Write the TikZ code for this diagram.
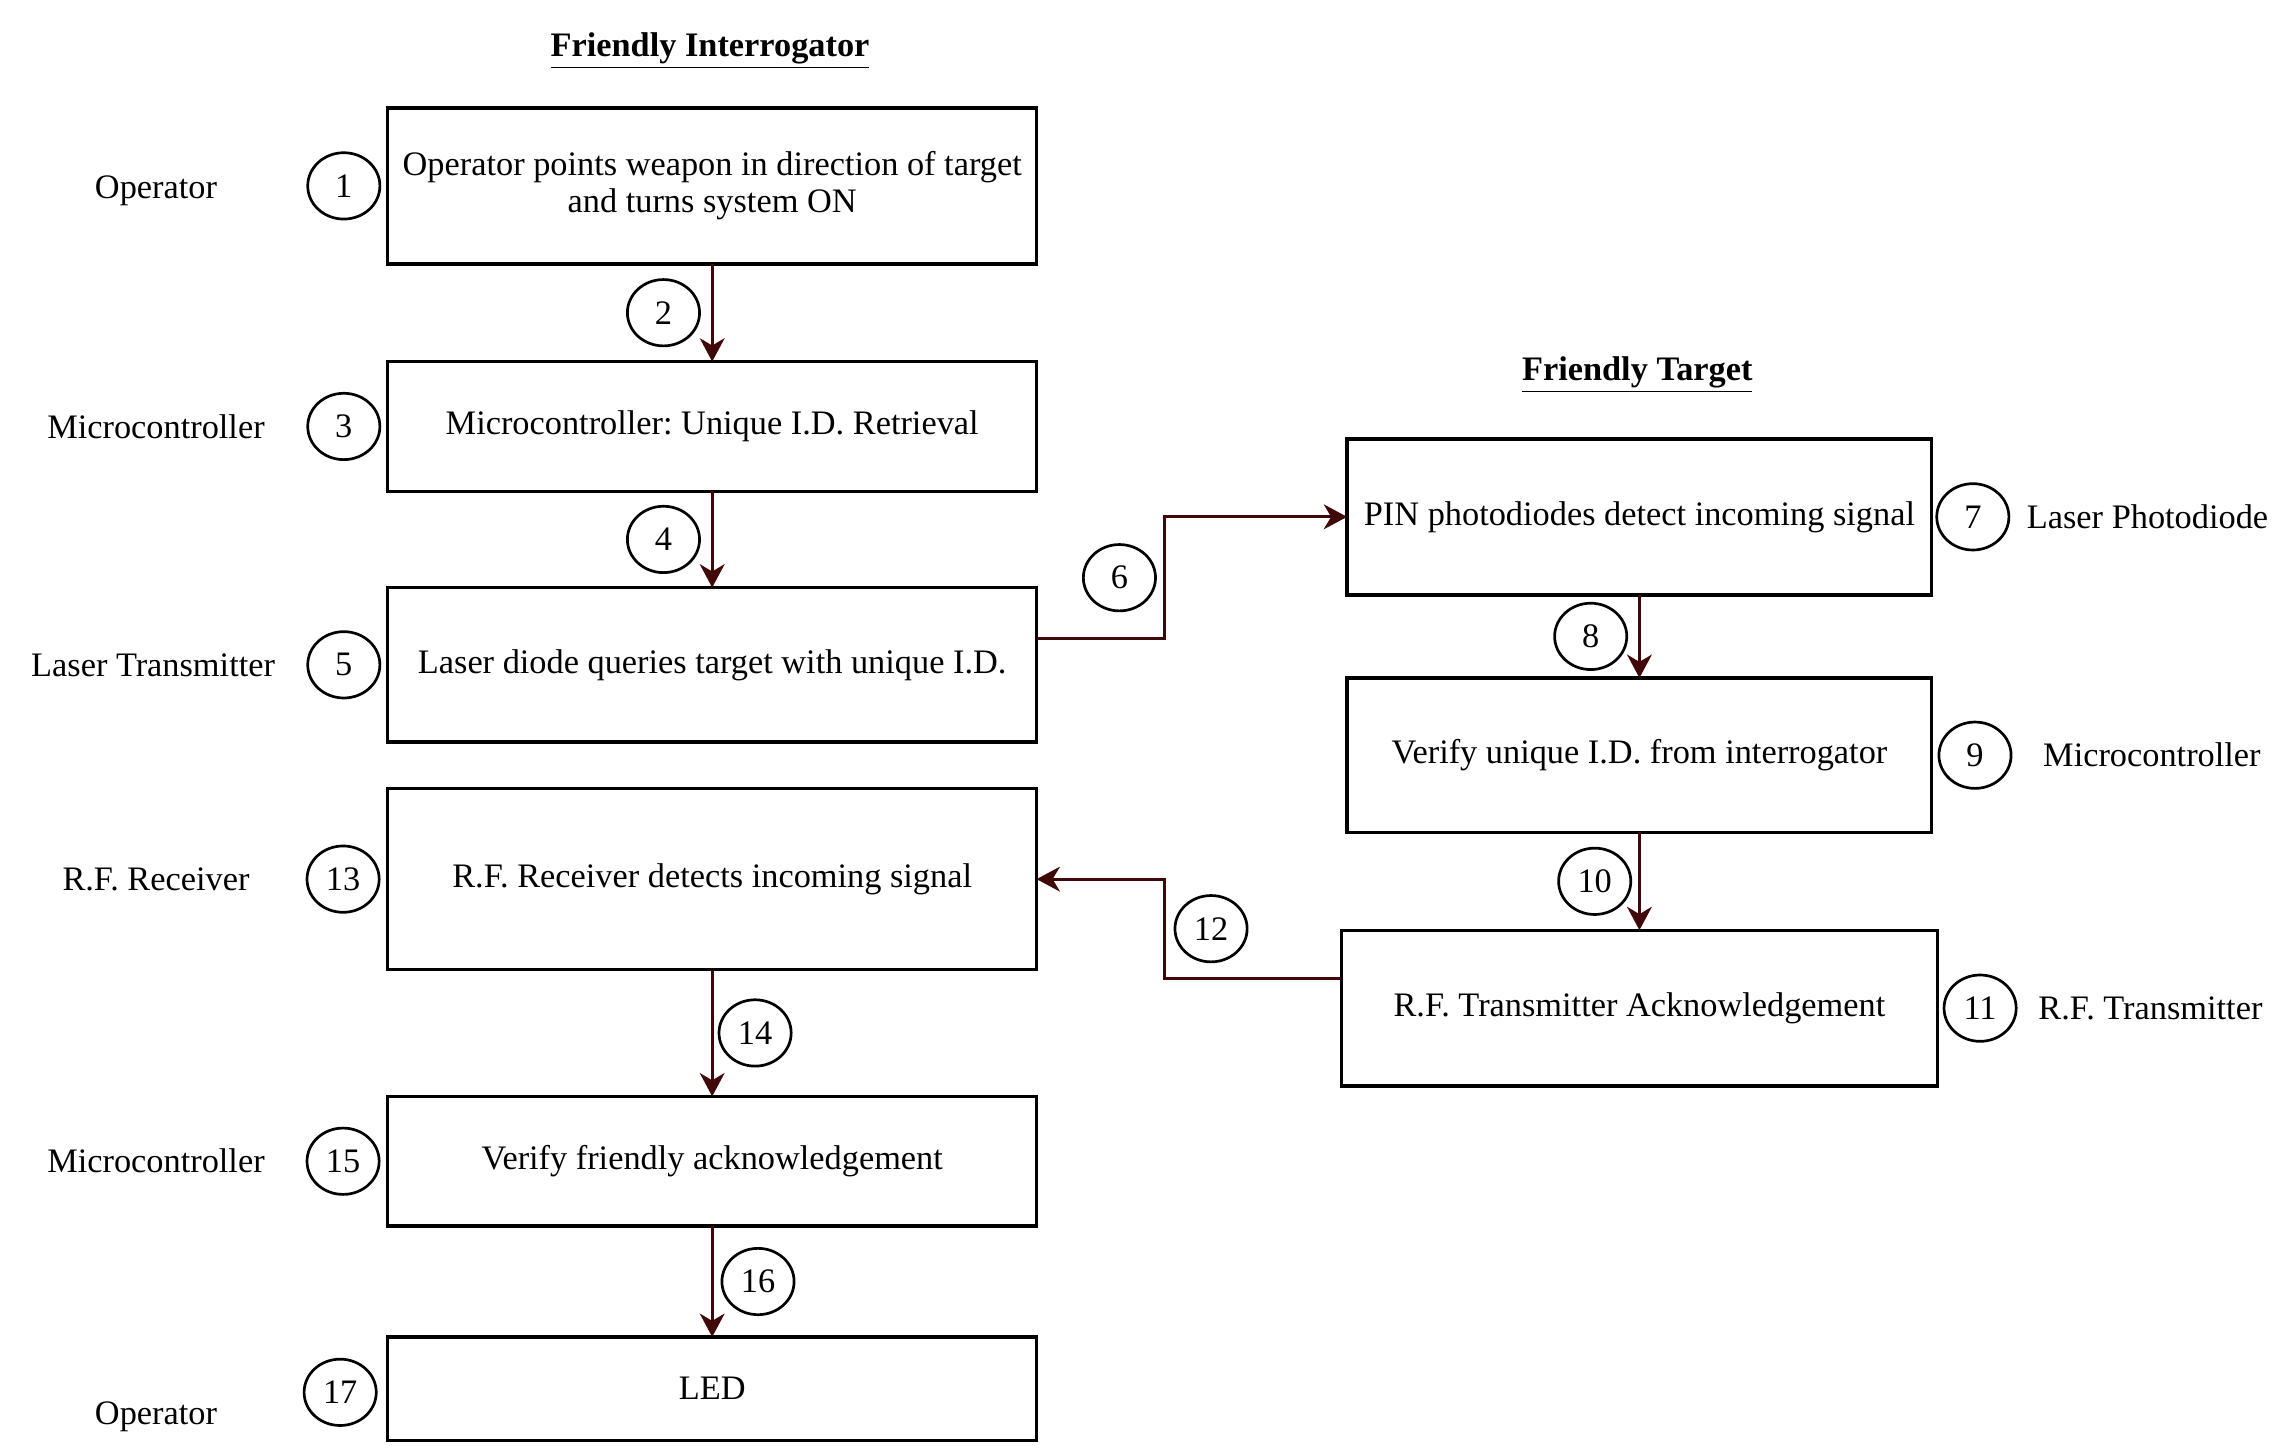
\documentclass[tikz,border=0pt]{standalone}
\usepackage{fontspec}
\setmainfont{Liberation Serif}
\usepackage{xcolor}
\usepackage{tikz}
\usetikzlibrary{shapes.geometric, arrows.meta, positioning, calc}
\definecolor{linkcolor}{RGB}{64, 8, 8}
\frenchspacing

\begin{document}
\begin{tikzpicture}[
        font=\fontsize{13.4}{14.5}\selectfont,
        stepbox/.style={rectangle, draw=black, line width=1.3pt, minimum width=8.9cm, align=center, inner sep=2pt, outer sep=0pt},
        numcirc/.style={ellipse, draw=black, line width=1.05pt, minimum width=0.99cm, minimum height=0.91cm, inner sep=0pt},
        role/.style={align=center},
        heading/.style={font=\fontsize{13.4}{14.5}\selectfont\bfseries},
        arrow/.style={line width=1.15pt, draw=linkcolor, -{Stealth[length=0.32cm, width=0.34cm, inset=0.1cm]}}
    ]
        \useasboundingbox (0,0) rectangle (31.36,-19.94);

        % Friendly Interrogator
        \node[heading] (tint) at (9.74,-0.7) {\underline{Friendly Interrogator}};
        \node (s1) [stepbox, minimum height=2.14cm] at (9.77,-2.55) {Operator points weapon in direction of target\\and turns system ON};
        \node[stepbox, minimum height=1.78cm, below=1.34cm of s1] (s3) {Microcontroller: Unique I.D. Retrieval};
        \node[stepbox, minimum height=2.12cm, below=1.32cm of s3] (s5) {Laser diode queries target with unique I.D.};
        \node[stepbox, minimum height=2.48cm, below=0.64cm of s5] (s13) {R.F. Receiver detects incoming signal};
        \node[stepbox, minimum height=1.78cm, below=1.74cm of s13] (s15) {Verify friendly acknowledgement};
        \node[stepbox, minimum height=1.42cm, below=1.52cm of s15] (s17) {LED};

        % Friendly Target
        \node[heading] (ttgt) at (22.46,-5.14) {\underline{Friendly Target}};
        \node (t7) [stepbox, minimum width=8.02cm, minimum height=2.14cm] at (22.49,-7.09) {PIN photodiodes detect incoming signal};
        \node[stepbox, minimum width=8.02cm, minimum height=2.12cm, below=1.14cm of t7] (t9) {Verify unique I.D. from interrogator};
        \node[stepbox, minimum width=8.18cm, minimum height=2.14cm, below=1.34cm of t9] (t11) {R.F. Transmitter Acknowledgement};

        % Step numbers
        \node[numcirc, left=0.09cm of s1] (n1) {1};
        \node[numcirc, left=0.09cm of s3] (n3) {3};
        \node[numcirc, left=0.09cm of s5] (n5) {5};
        \node[numcirc, left=0.1cm of s13] (n13) {13};
        \node[numcirc, left=0.1cm of s15] (n15) {15};
        \node[numcirc, left=0.14cm of s17, yshift=-0.05cm] (n17) {17};
        \node[numcirc, right=0.05cm of t7] (n7) {7};
        \node[numcirc, right=0.08cm of t9] (n9) {9};
        \node[numcirc, right=0.07cm of t11] (n11) {11};

        % Roles
        \node[role] (r1) at (2.14,-2.62) {Operator};
        \node[role] (r3) at (2.14,0 |- s3) {Microcontroller};
        \node[role] (r5) at (2.1,0 |- s5) {Laser Transmitter};
        \node[role] (r13) at (2.14,0 |- s13) {R.F. Receiver};
        \node[role] (r15) at (2.14,0 |- s15) {Microcontroller};
        \node[role] (r17) at (2.14,-19.44) {Operator};
        \node[role] (r7) at (29.46,0 |- t7) {Laser Photodiode};
        \node[role] (r9) at (29.52,0 |- t9) {Microcontroller};
        \node[role] (r11) at (29.5,0 |- t11) {R.F. Transmitter};

        % Interrogator arrows
        \draw[arrow] (s1) -- (s3) node[numcirc, midway, left=0.155cm] (n2) {2};
        \draw[arrow] (s3) -- (s5) node[numcirc, midway, left=0.155cm] (n4) {4};
        \draw[arrow] (s13) -- (s15) node[numcirc, midway, right=0.075cm] (n14) {14};
        \draw[arrow] (s15) -- (s17) node[numcirc, midway, right=0.115cm] (n16) {16};

        % Target arrows
        \draw[arrow] (t7) -- (t9) node[numcirc, midway, left=0.155cm] (n8) {8};
        \draw[arrow] (t9) -- (t11) node[numcirc, midway, left=0.1cm] (n10) {10};

        % Links between both sides
        \draw[arrow] ([yshift=0.36cm]s5.east) -- ++(1.76,0) |- (t7.west) node[numcirc, pos=0.25, left=0.11cm] (n6) {6};
        \draw[arrow] ([yshift=0.41cm]t11.west) -- ++(-2.42,0) |- (s13.east) node[numcirc, pos=0.25, right=0.12cm] (n12) {12};
    \end{tikzpicture}
\end{document}
